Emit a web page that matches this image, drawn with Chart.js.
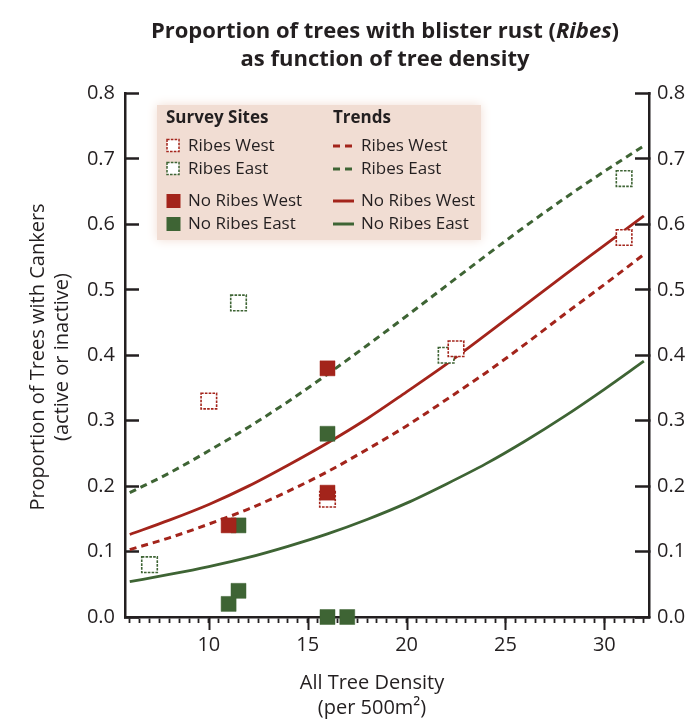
<!DOCTYPE html>
<html>
<head>
<meta charset="utf-8">
<script src="https://cdn.jsdelivr.net/npm/chart.js@4.4.1/dist/chart.umd.min.js"></script>
<style>
  html, body { margin: 0; padding: 0; background: #fff; }
  #wrap { width: 692px; height: 728px; }
</style>
</head>
<body>
<div id="wrap"><canvas id="chart" width="692" height="728"></canvas></div>
<script>
// Survey sites : x = all tree density (per 500 m2), y = proportion of trees with cankers
const ribesWestX = [10, 16, 22.5, 31];
const ribesWestY = [0.33, 0.18, 0.41, 0.58];
const ribesEastX = [7, 11.5, 22, 31];
const ribesEastY = [0.08, 0.48, 0.40, 0.67];
const noRibesWestX = [11, 16, 16];
const noRibesWestY = [0.14, 0.38, 0.19];
const noRibesEastX = [11.5, 16, 11.5, 11, 16, 17];
const noRibesEastY = [0.14, 0.28, 0.04, 0.02, 0, 0];

// Trend curves, every 2 trees
const trendX = [6, 8, 10, 12, 14, 16, 18, 20, 22, 24, 26, 28, 30, 32];
const trendRibesWest = [0.103, 0.121, 0.142, 0.165, 0.192, 0.222, 0.256, 0.292, 0.332, 0.373, 0.417, 0.463, 0.508, 0.554];
const trendRibesEast = [0.190, 0.220, 0.254, 0.290, 0.329, 0.371, 0.415, 0.460, 0.506, 0.552, 0.597, 0.640, 0.681, 0.720];
const trendNoRibesWest = [0.126, 0.148, 0.172, 0.200, 0.232, 0.266, 0.303, 0.344, 0.386, 0.431, 0.477, 0.523, 0.568, 0.613];
const trendNoRibesEast = [0.054, 0.065, 0.077, 0.091, 0.108, 0.127, 0.149, 0.174, 0.203, 0.234, 0.269, 0.307, 0.348, 0.391];

// Axes
const yTicks = [0, 0.1, 0.2, 0.3, 0.4, 0.5, 0.6, 0.7, 0.8];
const xMajorTicks = [10, 15, 20, 25, 30];
const xMinorStep = 0.5;

const RED = "#a3241b";
const GREEN = "#3e6434";
const INK = "#231f20";
const FONT = "'Open Sans', 'Noto Sans', sans-serif";

Chart.defaults.font.family = FONT;
Chart.defaults.color = INK;

function pts(xs, ys) {
  return xs.map((x, i) => ({ x: x, y: ys[i] }));
}

// Petit plugin maison : titre, titres d'axes, légende, grandes graduations
const decor = {
  id: "decor",
  beforeDatasetDraw(chart, args) {
    const ds = chart.data.datasets[args.index];
    if (ds.hollow) {
      chart.ctx.save();
      chart.ctx.setLineDash([2.6, 1.2]);
    }
  },
  afterDatasetDraw(chart, args) {
    if (chart.data.datasets[args.index].hollow) chart.ctx.restore();
  },
  beforeDatasetsDraw(chart) {
    const ctx = chart.ctx;
    ctx.save();
    ctx.fillStyle = "#f1ddd3";
    ctx.shadowColor = "#f1ddd3";
    ctx.shadowBlur = 10;
    ctx.fillRect(157, 105, 324, 135);
    ctx.restore();
  },
  afterDraw(chart) {
    const ctx = chart.ctx;
    const xs = chart.scales.x;
    const area = chart.chartArea;
    ctx.save();

    // grandes graduations de l'axe x
    ctx.strokeStyle = INK;
    ctx.lineWidth = 2;
    xMajorTicks.forEach(v => {
      const px = Math.round(xs.getPixelForValue(v)) + 0.5;
      ctx.beginPath();
      ctx.moveTo(px, area.bottom);
      ctx.lineTo(px, area.bottom + 13);
      ctx.stroke();
    });

    // titre
    ctx.fillStyle = INK;
    ctx.textBaseline = "middle";
    const bold = "bold 22px " + FONT;
    const boldIt = "italic bold 22px " + FONT;
    const parts = [["Proportion of trees with blister rust (", bold], ["Ribes", boldIt], [")", bold]];
    let w = 0;
    parts.forEach(p => { ctx.font = p[1]; w += ctx.measureText(p[0]).width; });
    let x0 = 385 - w / 2;
    ctx.textAlign = "left";
    parts.forEach(p => { ctx.font = p[1]; ctx.fillText(p[0], x0, 32); x0 += ctx.measureText(p[0]).width; });
    ctx.textAlign = "center";
    ctx.font = bold;
    ctx.fillText("as function of tree density", 385, 60);

    // titre axe x
    ctx.font = "20px " + FONT;
    ctx.fillText("All Tree Density", 372, 683);
    ctx.fillText("(per 500m\u00b2)", 372, 708);

    // titre axe y
    ctx.save();
    ctx.translate(38, 357);
    ctx.rotate(-Math.PI / 2);
    ctx.fillText("Proportion of Trees with Cankers", 0, 0);
    ctx.fillText("(active or inactive)", 0, 24);
    ctx.restore();

    // légende
    ctx.textAlign = "left";
    ctx.font = "bold 17px " + FONT;
    ctx.fillText("Survey Sites", 166, 118);
    ctx.fillText("Trends", 333, 118);
    ctx.font = "17px " + FONT;
    const rows = [
      ["Ribes West", RED, true, true, 146],
      ["Ribes East", GREEN, true, true, 169],
      ["No Ribes West", RED, false, false, 201],
      ["No Ribes East", GREEN, false, false, 224],
    ];
    rows.forEach(r => {
      const [label, col, hollow, dashed, y] = r;
      if (hollow) {
        ctx.save();
        ctx.fillStyle = "#fff";
        ctx.fillRect(167, y - 6.5, 12, 12);
        ctx.strokeStyle = col;
        ctx.lineWidth = 1.5;
        ctx.setLineDash([2.6, 1.2]);
        ctx.strokeRect(167, y - 6.5, 12, 12);
        ctx.restore();
      } else {
        ctx.fillStyle = col;
        ctx.fillRect(166.5, y - 7, 14, 14);
      }
      ctx.save();
      ctx.strokeStyle = col;
      ctx.lineWidth = 3;
      if (dashed) ctx.setLineDash([7, 5]);
      ctx.beginPath();
      ctx.moveTo(333, y);
      ctx.lineTo(354, y);
      ctx.stroke();
      ctx.restore();
      ctx.fillStyle = INK;
      ctx.fillText(label, 188, y);
      ctx.fillText(label, 361, y);
    });
    ctx.restore();
  }
};

const yAxisCommon = {
  type: "linear",
  min: 0,
  max: 0.8,
  afterBuildTicks: s => { s.ticks = yTicks.map(v => ({ value: v })); },
  grid: { drawOnChartArea: false, drawTicks: true, tickLength: -14, tickWidth: 2.5, tickColor: INK },
  border: { display: true, color: INK, width: 2.5 },
};

new Chart(document.getElementById("chart"), {
  type: "scatter",
  data: {
    datasets: [
      {
        label: "No Ribes West",
        data: pts(noRibesWestX, noRibesWestY),
        pointStyle: "rect",
        pointRadius: 10.6,
        backgroundColor: RED,
        borderColor: RED,
        borderWidth: 0.5,
        clip: false,
      },
      {
        label: "No Ribes East",
        data: pts(noRibesEastX, noRibesEastY),
        pointStyle: "rect",
        pointRadius: 10.6,
        backgroundColor: GREEN,
        borderColor: GREEN,
        borderWidth: 0.5,
        clip: false,
      },
      {
        label: "Ribes West",
        hollow: true,
        data: pts(ribesWestX, ribesWestY),
        pointStyle: "rect",
        pointRadius: 11,
        backgroundColor: "#ffffff",
        borderColor: RED,
        borderWidth: 1.6,
        clip: false,
      },
      {
        label: "Ribes East",
        hollow: true,
        data: pts(ribesEastX, ribesEastY),
        pointStyle: "rect",
        pointRadius: 11,
        backgroundColor: "#ffffff",
        borderColor: GREEN,
        borderWidth: 1.6,
        clip: false,
      },
      {
        type: "line",
        label: "Trend Ribes West",
        data: pts(trendX, trendRibesWest),
        borderColor: RED,
        borderWidth: 3,
        borderDash: [7, 5],
        pointRadius: 0,
        cubicInterpolationMode: "monotone",
      },
      {
        type: "line",
        label: "Trend Ribes East",
        data: pts(trendX, trendRibesEast),
        borderColor: GREEN,
        borderWidth: 3,
        borderDash: [7, 5],
        pointRadius: 0,
        cubicInterpolationMode: "monotone",
      },
      {
        type: "line",
        label: "Trend No Ribes West",
        data: pts(trendX, trendNoRibesWest),
        borderColor: RED,
        borderWidth: 2.8,
        pointRadius: 0,
        cubicInterpolationMode: "monotone",
      },
      {
        type: "line",
        label: "Trend No Ribes East",
        data: pts(trendX, trendNoRibesEast),
        borderColor: GREEN,
        borderWidth: 2.8,
        pointRadius: 0,
        cubicInterpolationMode: "monotone",
      },
    ],
  },
  options: {
    responsive: false,
    animation: false,
    layout: { padding: { top: 93.5, left: 0, right: 0, bottom: 0 } },
    plugins: {
      legend: { display: false },
      tooltip: { enabled: false },
      title: { display: false },
    },
    scales: {
      x: {
        type: "linear",
        position: "bottom",
        min: 5.76,
        max: 32.26,
        afterBuildTicks: s => {
          const t = [];
          for (let v = 6; v <= 32.001; v += xMinorStep) t.push({ value: Math.round(v * 10) / 10 });
          s.ticks = t;
        },
        afterFit: s => { s.height = 111; },
        grid: { drawOnChartArea: false, drawTicks: true, tickLength: 6, tickWidth: 1.8, tickColor: INK },
        border: { display: true, color: INK, width: 2.5 },
        ticks: {
          autoSkip: false,
          maxRotation: 0,
          padding: 10,
          color: INK,
          font: { size: 20 },
          callback: v => (xMajorTicks.includes(v) ? String(v) : ""),
        },
      },
      y: Object.assign({}, yAxisCommon, {
        position: "left",
        afterFit: s => { s.width = 125; },
        ticks: { padding: 24, color: INK, font: { size: 20 }, callback: v => v.toFixed(1) },
      }),
      y2: Object.assign({}, yAxisCommon, {
        position: "right",
        afterFit: s => { s.width = 43; },
        ticks: { padding: 22, color: INK, font: { size: 20 }, callback: v => v.toFixed(1) },
      }),
    },
  },
  plugins: [decor],
});
</script>
</body>
</html>
